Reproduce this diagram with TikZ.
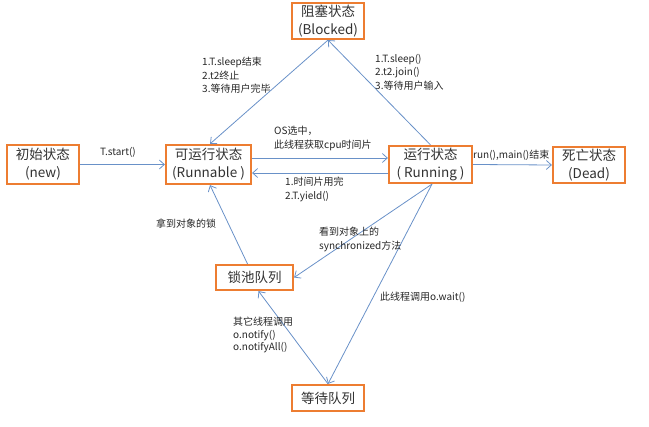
\documentclass[tikz,border=0pt]{standalone}
\usepackage{fontspec}
\setmainfont{Noto Sans CJK SC}
\usetikzlibrary{arrows.meta,calc}
\definecolor{boxor}{RGB}{237,125,49}
\definecolor{arrblue}{RGB}{105,145,200}
\definecolor{txtgray}{RGB}{50,50,50}
\tikzset{
  state/.style={draw=boxor,line width=2.2pt,fill=white,inner sep=0pt,align=center,
    font=\fontsize{13.5}{18}\selectfont,text=txtgray},
  conn/.style={draw=arrblue,line width=0.8pt,-{Straight Barb[length=5pt,width=9pt]}},
  lbl/.style={inner sep=0pt,align=left,font=\fontsize{10}{13.5}\selectfont,text=black!85}
}
\begin{document}
\begin{tikzpicture}[x=1pt,y=-1pt]
\useasboundingbox (0,0) rectangle (649,427);
\node[state,minimum width=72pt,minimum height=36pt] (blocked) at (328,21) {阻塞状态\\(Blocked)};
\node[state,minimum width=72pt,minimum height=39pt] (init) at (43,164.5) {初始状态\\(new)};
\node[state,minimum width=85pt,minimum height=39pt] (runnable) at (208.5,164.5) {可运行状态\\(Runnable )};
\node[state,minimum width=83pt,minimum height=37pt] (running) at (430.5,164.5) {运行状态\\( Running )};
\node[state,minimum width=72pt,minimum height=36pt] (dead) at (589,165) {死亡状态\\(Dead)};
\node[state,minimum width=77pt,minimum height=25pt] (lock) at (254.5,277.5) {锁池队列};
\node[state,minimum width=72pt,minimum height=26pt] (wait) at (328,398) {等待队列};

\draw[conn] (init.east) -- (runnable.west);
\draw[conn] ([yshift=6.5pt]runnable.east) -- ([yshift=6.5pt]running.west);
\draw[conn] ([yshift=-8.5pt]running.west) -- ([yshift=-8.5pt]runnable.east);
\draw[conn] (running.east) -- (dead.west);
\draw[conn] (blocked.south) -- ([xshift=1.5pt]runnable.north);
\draw[conn] (running.north) -- (blocked.south);
\draw[conn] ([xshift=1.5pt]running.south) -- (lock.east);
\draw[conn] ([xshift=1.5pt]running.south) -- (wait.north);
\draw[conn] (wait.north) -- ([xshift=4pt]lock.south);
\draw[conn] ([xshift=-7pt]lock.north) -- ([xshift=1.5pt]runnable.south);

\node[lbl,anchor=north west] (l1) at (202,57) {1.T.sleep结束\\2.t2终止\\3.等待用户完毕};
\node[lbl,anchor=north west] (l2) at (375,54) {1.T.sleep()\\2.t2.join()\\3.等待用户输入};
\node[lbl,anchor=west] (l3) at (100,152) {T.start()};
\node[lbl,anchor=north west] (l4) at (274,126) {OS选中，\\此线程获取cpu时间片};
\node[lbl,anchor=north west] (l5) at (285,177) {1.时间片用完\\2.T.yield()};
\node[lbl,anchor=west] (l6) at (473,155) {run(),main()结束};
\node[lbl,anchor=west] (l7) at (156,224) {拿到对象的锁};
\node[lbl,anchor=north west] (l8) at (319,227) {看到对象上的\\synchronized方法};
\node[lbl,anchor=west] (l9) at (380,297) {此线程调用o.wait()};
\node[lbl,anchor=north west,font=\fontsize{10}{12.5}\selectfont] (l10) at (233,317) {其它线程调用\\o.notify()\\o.notifyAll()};
\end{tikzpicture}
\end{document}
